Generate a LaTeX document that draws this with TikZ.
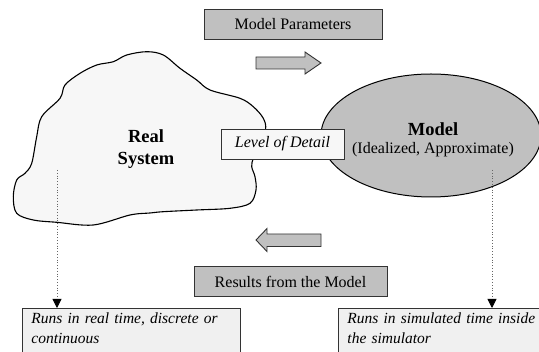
\documentclass[tikz,border=0pt]{standalone}
\usepackage{fontspec}
\setmainfont{Liberation Serif}
\usetikzlibrary{shapes.geometric,arrows.meta}
\definecolor{boxgray}{HTML}{C0C0C0}
\definecolor{cloudgray}{HTML}{F7F7F7}
\definecolor{notegray}{HTML}{F0F0F0}

\begin{document}
\begin{tikzpicture}
	[x=1pt, y=-1pt,
	every node/.style={font=\fontsize{16}{20}\selectfont, inner sep=0pt},
	graybox/.style={rectangle,draw=black!80,fill=boxgray,line width=0.9pt,minimum height=30pt},
	detailbox/.style={rectangle,draw=black!80,fill=black!3,line width=0.9pt,minimum width=123pt,minimum height=30pt,font=\itshape\fontsize{16}{20}\selectfont},
	notebox/.style={rectangle,draw=black!80,fill=notegray,line width=0.9pt,anchor=north west,align=left,inner xsep=9pt,inner ysep=4pt,text depth=30pt,font=\itshape\fontsize{15.5}{20.5}\selectfont},
	boldlabel/.style={align=center,font=\bfseries\fontsize{18.5}{22}\selectfont},
	fatarrow/.style={draw=black!80,fill=boxgray,line width=0.9pt},
	dotconn/.style={draw=black!60,dotted,line width=0.8pt,-{Triangle[width=9pt,length=9pt,black]}}]
	\useasboundingbox (0,0) rectangle (539,352);
	\draw [line width=1.1pt,fill=cloudgray] plot [smooth cycle,tension=0.55] coordinates {
		(146.7,51.7) (163.3,55) (180,68.3) (196.7,80) (210,90) (240,98.3) (253.3,106.7)
		(263.3,118.3) (265.5,130) (258,150) (253.3,158.3) (251.7,166.7) (255,176.7) (256,190)
		(250,203.3) (230,208.3) (196.7,210) (163.3,211.7) (150,213) (130,215) (93.3,225)
		(56.7,222.3) (33.3,220) (16.7,213.3) (13.3,196.7) (16.7,180) (25,173.3) (31.7,163.3)
		(36.7,136.7) (41.7,116.7) (60,98.3) (65,85) (80,73.3) (96.7,65) (113.3,61.7) (126.7,55)};
	\node (real) [boldlabel] at (146,149) {Real\\System};
	\node (model) [ellipse,draw=black,fill=boxgray,line width=1pt,minimum width=220pt,minimum height=123pt] at (431,135.5) {};
	\node (modeltext) [align=center,font=\fontsize{16}{18}\selectfont] at (433,140)
		{{\bfseries\fontsize{18.5}{22}\selectfont Model}\\(Idealized, Approximate)};
	\node (detail) [detailbox] at (282.5,144) {Level of Detail};
	\node (params) [graybox,minimum width=178pt] at (293,24) {Model Parameters};
	\node (results) [graybox,minimum width=193pt] at (290.5,281.5) {Results from the Model};
	\draw [fatarrow] (256,57) -- (305,57) -- (305,52) -- (321,63) -- (305,74) -- (305,69) -- (256,69) -- cycle;
	\draw [fatarrow] (321,234) -- (267,234) -- (267,228.5) -- (256,240) -- (267,251.5) -- (267,246.5) -- (321,246.5) -- cycle;
	\node (realnote) [notebox,text width=200pt] at (22,308) {Runs in real time, discrete or\\continuous};
	\node (modelnote) [notebox,text width=200pt] at (338,308) {Runs in simulated time inside\\the simulator};
	\coordinate (realdot) at (57,170);
	\coordinate (modeldot) at (492,170);
	\draw [dotconn] (realdot) -- (realdot |- realnote.north);
	\draw [dotconn] (modeldot) -- (modeldot |- modelnote.north);
\end{tikzpicture}
\end{document}
